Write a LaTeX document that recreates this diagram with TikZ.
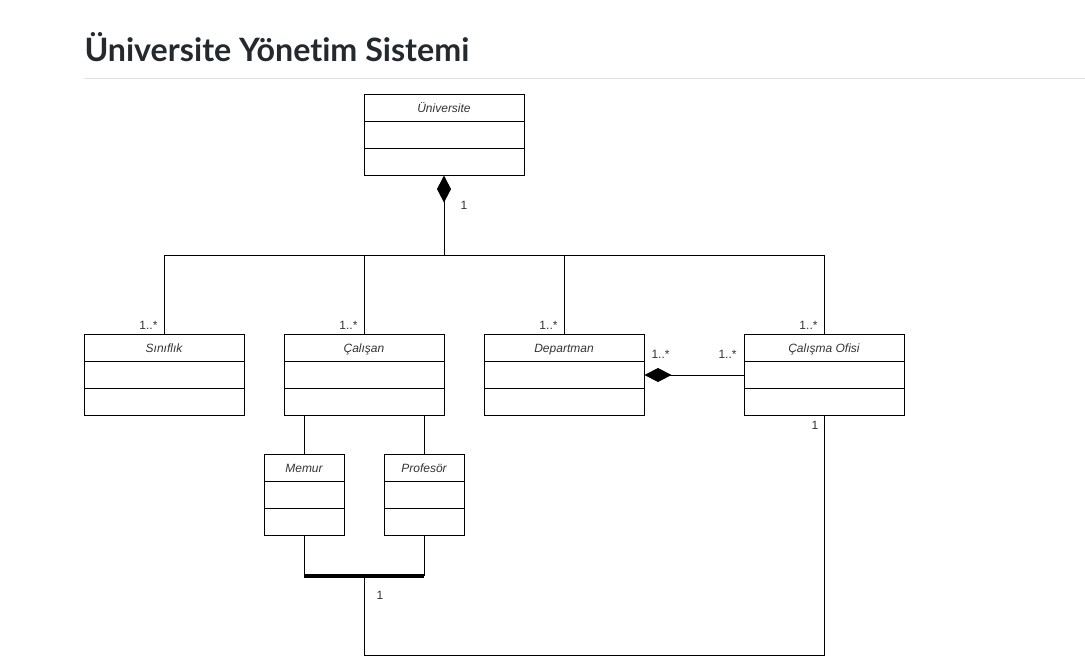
\documentclass[tikz,border=0pt]{standalone}
\usepackage{fontspec}
\setmainfont{Liberation Sans}
\newfontfamily\titlefont[Ligatures={NoCommon}]{Lato}
\usetikzlibrary{shapes.multipart, positioning, arrows.meta, calc}

\definecolor{titlegray}{HTML}{24292E}
\definecolor{textgray}{HTML}{333333}
\definecolor{rulegray}{HTML}{E1E4E8}

\newcommand{\clsname}[1]{\rule[-9pt]{0pt}{25.7pt}\itshape #1}

\begin{document}
\begin{tikzpicture}[
    x=1pt, y=-1pt, line width=1pt,
    font=\fontsize{12}{14}\selectfont,
    cls/.style={draw, rectangle split, rectangle split parts=3,
        minimum width=160pt, inner xsep=0pt, inner ysep=0pt,
        rectangle split empty part height=25.7pt,
        rectangle split empty part depth=0pt, text=textgray},
    smallcls/.style={cls, minimum width=80pt},
    mult/.style={text=textgray, inner sep=0pt},
    comp/.style={{Diamond[length=27pt, width=14pt]}-}
]
    \useasboundingbox (0,0) rectangle (1085,657);

    % Title
    \node[anchor=base west, inner sep=0pt, text=titlegray,
          font=\titlefont\bfseries\fontsize{32.2}{39}\selectfont] (title) at (84,61) {Üniversite Yönetim Sistemi};
    \draw[rulegray] (84,78) -- (1085,78);

    % Classes
    \node[cls] (uni) at (444,135) {\clsname{Üniversite}};
    \node[cls] (sinif) at (164,375) {\clsname{Sınıflık}};
    \node[cls, right=39pt of sinif] (calisan) {\clsname{Çalışan}};
    \node[cls, right=39pt of calisan] (dept) {\clsname{Departman}};
    \node[cls, right=99pt of dept] (ofis) {\clsname{Çalışma Ofisi}};
    \node[smallcls] (memur) at (304,495) {\clsname{Memur}};
    \node[smallcls] (prof) at (424,495) {\clsname{Profesör}};

    % University composition
    \draw[comp] (uni.south) -- node[mult, at start, xshift=20pt, yshift=-30pt] {1} ++(0,80) coordinate (bus);
    \draw (bus) -| node[mult, pos=1, anchor=south east, xshift=-6pt, yshift=4pt] {1..*} (sinif.north);
    \draw (bus) -| node[mult, pos=1, anchor=south east, xshift=-6pt, yshift=4pt] {1..*} (calisan.north);
    \draw (bus) -| node[mult, pos=1, anchor=south east, xshift=-6pt, yshift=4pt] {1..*} (dept.north);
    \draw (bus) -| node[mult, pos=1, anchor=south east, xshift=-6pt, yshift=4pt] {1..*} (ofis.north);

    % Department - office
    \draw[comp] (dept.east) -- node[mult, at start, xshift=16pt, yshift=21pt] {1..*}
        node[mult, at end, xshift=-16pt, yshift=21pt] {1..*} (ofis.west);

    % Employee types
    \draw (memur.north) -- (memur.north |- calisan.south);
    \draw (prof.north) -- (prof.north |- calisan.south);
    \draw (memur.south) -- ++(0,40) coordinate (barL);
    \draw (prof.south) -- ++(0,40) coordinate (barR);
    \draw[line width=4pt] (barL) -- (barR);
    \coordinate (barM) at ($(barL)!.5!(barR)$);
    \draw (barM) -- node[mult, at start, xshift=16pt, yshift=-20pt] {1} ++(0,80) -| node[mult, pos=1, xshift=-9pt, yshift=-10pt] {1} (ofis.south);

\end{tikzpicture}
\end{document}
